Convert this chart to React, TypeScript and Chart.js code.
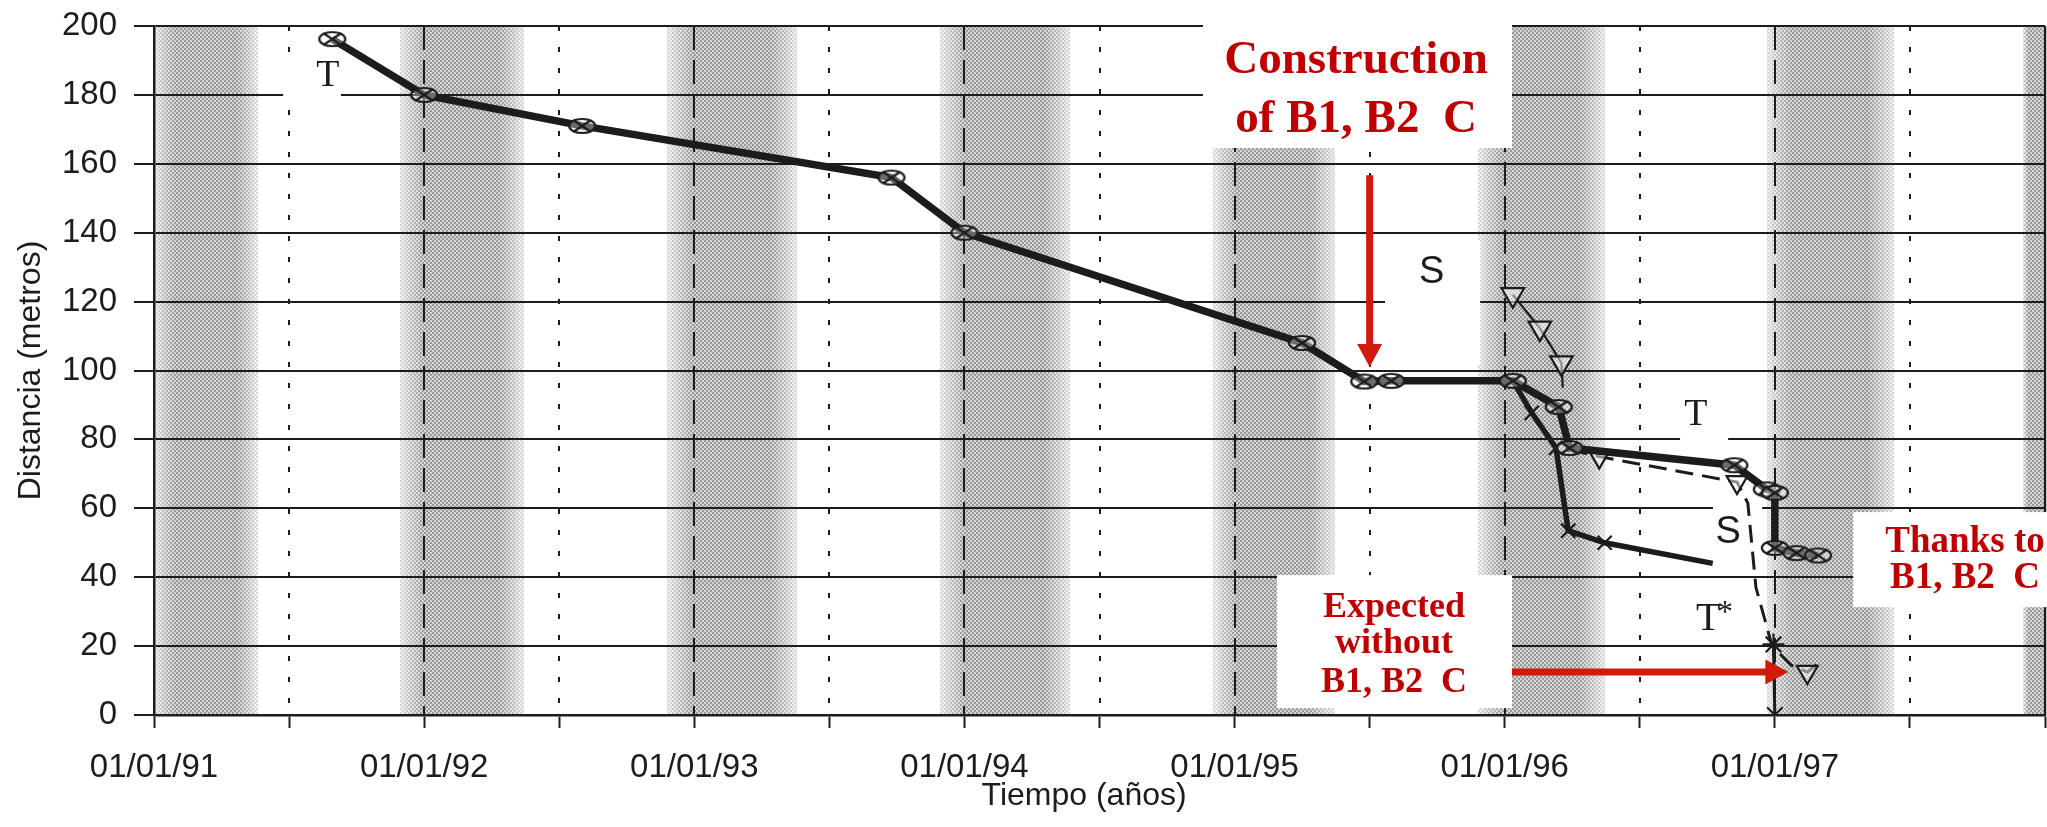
import React, { useEffect, useRef } from 'react';
import { Chart, registerables } from 'chart.js';
Chart.register(...registerables);

// ---------------- DATA ----------------
// Thick line "T" (measured)
const tYears = [1991.66, 1992.0, 1992.585, 1993.73, 1994.0, 1995.25, 1995.48, 1995.58, 1996.03, 1996.2, 1996.24, 1996.85, 1996.97, 1997.0, 1997.0, 1997.08, 1997.16];
const tDist = [196.2, 180, 171.0, 156, 140, 108, 96.8, 97, 97, 89.4, 77.5, 72.5, 65.5, 64.5, 48.5, 47, 46.3];
// Line "S" (measured)
const sYears = [1996.03, 1996.1, 1996.19, 1996.235, 1996.37, 1996.77];
const sDist = [97, 87.7, 77.5, 53.5, 50, 44];
// Triangles (upper predicted)
const pYears = [1996.03, 1996.13, 1996.21, 1996.215];
const pDist = [122, 112.3, 102.2, 95];
// Dashed "T*" (expected)
const tsYears = [1996.24, 1996.35, 1996.86, 1996.9, 1996.93, 1996.99, 1997.06, 1997.12, 1997.17];
const tsDist = [77, 75, 67.6, 61.5, 37, 20, 14.5, 12.5, 15.5];
// Asterisk markers
const aYears = [1996.995, 1997.0];
const aDist = [20.5, 0];

// Shaded seasonal bands
const bandStart = [1991.0, 1991.91, 1992.9, 1993.91, 1994.92, 1995.9, 1996.97, 1997.92];
const bandEnd = [1991.385, 1992.37, 1993.38, 1994.39, 1995.37, 1996.37, 1997.44, 1998.0];

// Axis ticks
const xTickYears = [1991, 1992, 1993, 1994, 1995, 1996, 1997];
const xTickLabels = ['01/01/91', '01/01/92', '01/01/93', '01/01/94', '01/01/95', '01/01/96', '01/01/97'];
const yearLines = [1992, 1993, 1994, 1995, 1996, 1997];
const halfYearLines = [1991.5, 1992.5, 1993.5, 1994.5, 1995.5, 1996.5, 1997.5];
const xTitle = 'Tiempo (años)';
const yTitle = 'Distancia (metros)';

// ---------------- ANNOTATION LAYOUT (data units) ----------------
const whiteBoxes = [
  { x0: 1994.883, x1: 1996.027, y0: 164.6, y1: 212 },
  { x0: 1995.557, x1: 1995.909, y0: 101.6, y1: 137.9 },
  { x0: 1991.478, x1: 1991.692, y0: 178.5, y1: 191.6 },
  { x0: 1996.649, x1: 1996.827, y0: 78.4, y1: 92.9 },
  { x0: 1996.771, x1: 1996.953, y0: 40.6, y1: 62.4 },
  { x0: 1996.612, x1: 1996.871, y0: 21.8, y1: 36.3 },
  { x0: 1995.157, x1: 1996.027, y0: 2.0, y1: 40.6 },
  { x0: 1997.29, x1: 1998.02, y0: 31.3, y1: 58.9 },
];
const blackLabels = [
  { text: 'T', x: 1991.644, y: 185.6, font: '38px "Liberation Serif"' },
  { text: 'S', x: 1995.73, y: 128.3, font: '38px "Liberation Sans"' },
  { text: 'T', x: 1996.708, y: 87.2, font: '38px "Liberation Serif"' },
  { text: 'S', x: 1996.827, y: 53.1, font: '38px "Liberation Sans"' },
  { text: 'T', x: 1996.753, y: 27.6, font: '40px "Liberation Serif"' },
  { text: '*', x: 1996.815, y: 29.5, font: '32px "Liberation Serif"' },
];
const redTexts = [
  { text: 'Construction', x: 1995.45, y: 186.4, size: 47 },
  { text: 'of B1, B2  C', x: 1995.45, y: 169.2, size: 47 },
  { text: 'Expected', x: 1995.59, y: 28.4, size: 36 },
  { text: 'without', x: 1995.59, y: 18.0, size: 36 },
  { text: 'B1, B2  C', x: 1995.59, y: 6.7, size: 36 },
  { text: 'Thanks to', x: 1997.704, y: 47.3, size: 37 },
  { text: 'B1, B2  C', x: 1997.704, y: 36.9, size: 37 },
];
const arrows = [
  { x0: 1995.5, y0: 156.7, x1: 1995.5, y1: 101 },
  { x0: 1996.027, y0: 12.5, x1: 1997.05, y1: 12.5 },
];
const X_TITLE_CENTER = 1994.443; // horizontal centre of the x-axis title (data units)

const INK = '#1c1c1c';
const RED_TEXT = '#C00000';
const RED_ARROW = '#D21A0C';

function makeOvalMarker(): HTMLCanvasElement {
  const c = document.createElement('canvas');
  c.width = 30; c.height = 18;
  const g = c.getContext('2d')!;
  g.strokeStyle = INK; g.lineWidth = 2.2;
  g.fillStyle = 'rgba(255,255,255,0.35)';
  g.beginPath(); g.ellipse(15, 9, 13, 7, 0, 0, Math.PI * 2); g.fill(); g.stroke();
  g.beginPath(); g.moveTo(6, 3); g.lineTo(24, 15); g.moveTo(6, 15); g.lineTo(24, 3); g.stroke();
  return c;
}

function makeDotPattern(ctx: CanvasRenderingContext2D) {
  const c = document.createElement('canvas');
  c.width = 4; c.height = 4;
  const g = c.getContext('2d')!;
  g.fillStyle = '#000';
  g.fillRect(0, 0, 2, 2); g.fillRect(2, 2, 2, 2);
  return ctx.createPattern(c, 'repeat');
}

const pts = (xs: number[], ys: number[]) => xs.map((x, i) => ({ x, y: ys[i] }));

const backgroundPlugin = {
  id: 'bgBands',
  beforeDraw(chart: any) {
    const { ctx, chartArea: a, scales: { x } } = chart;
    ctx.save();
    const pat = makeDotPattern(ctx);
    for (let i = 0; i < bandStart.length; i++) {
      const x0 = x.getPixelForValue(bandStart[i]);
      const x1 = x.getPixelForValue(bandEnd[i]);
      const n = 26;
      for (let k = 0; k < n; k++) {
        const t = (k + 0.5) / n;
        const p = 0.3 + 0.7 * Math.min(1, t / 0.2, (1 - t) / 0.2);
        const sx0 = Math.round(x0 + (k * (x1 - x0)) / n);
        const sx1 = Math.round(x0 + ((k + 1) * (x1 - x0)) / n);
        ctx.globalAlpha = 0.17 * p;
        ctx.fillStyle = '#000';
        ctx.fillRect(sx0, a.top, sx1 - sx0, a.bottom - a.top);
        ctx.globalAlpha = 0.28 * p;
        ctx.fillStyle = pat;
        ctx.fillRect(sx0, a.top, sx1 - sx0, a.bottom - a.top);
      }
    }
    ctx.restore();
  },
  beforeDatasetsDraw(chart: any) {
    const { ctx, chartArea: a, scales: { x, y } } = chart;
    ctx.save();
    ctx.strokeStyle = INK;
    ctx.lineWidth = 2;
    const vline = (v: number, dash: number[]) => {
      const px = Math.round(x.getPixelForValue(v));
      ctx.setLineDash(dash);
      ctx.beginPath(); ctx.moveTo(px, a.top); ctx.lineTo(px, a.bottom); ctx.stroke();
    };
    yearLines.forEach((v) => vline(v, [24, 10]));
    halfYearLines.forEach((v) => vline(v, [5, 16]));
    ctx.lineWidth = 2.5;
    vline(1998, []);
    ctx.setLineDash([]);
    ctx.fillStyle = '#ffffff';
    whiteBoxes.forEach((b) => {
      const px0 = x.getPixelForValue(b.x0), px1 = x.getPixelForValue(b.x1);
      const py0 = y.getPixelForValue(b.y1), py1 = y.getPixelForValue(b.y0);
      ctx.fillRect(px0, Math.max(0, py0), px1 - px0, py1 - Math.max(0, py0));
    });
    ctx.restore();
  },
  afterDatasetsDraw(chart: any) {
    const { ctx, scales: { x, y } } = chart;
    ctx.save();
    ctx.textAlign = 'center';
    ctx.textBaseline = 'middle';
    ctx.fillStyle = INK;
    blackLabels.forEach((l) => {
      ctx.font = l.font;
      ctx.fillText(l.text, x.getPixelForValue(l.x), y.getPixelForValue(l.y));
    });
    // x-axis title
    ctx.font = '32px "Liberation Sans"';
    ctx.fillText(xTitle, x.getPixelForValue(X_TITLE_CENTER), x.bottom - 31);
    ctx.textBaseline = 'alphabetic';
    ctx.fillStyle = RED_TEXT;
    redTexts.forEach((t) => {
      ctx.font = `bold ${t.size}px "Liberation Serif"`;
      ctx.fillText(t.text, x.getPixelForValue(t.x), y.getPixelForValue(t.y));
    });
    ctx.fillStyle = RED_ARROW;
    arrows.forEach((ar) => {
      const X0 = x.getPixelForValue(ar.x0), Y0 = y.getPixelForValue(ar.y0);
      const X1 = x.getPixelForValue(ar.x1), Y1 = y.getPixelForValue(ar.y1);
      const len = Math.hypot(X1 - X0, Y1 - Y0);
      const ux = (X1 - X0) / len, uy = (Y1 - Y0) / len;
      const nx = -uy, ny = ux;
      const headL = 23, headW = 12.5, shaftW = 3.5;
      const bx = X1 - ux * headL, by = Y1 - uy * headL;
      ctx.beginPath();
      ctx.moveTo(X0 + nx * shaftW, Y0 + ny * shaftW);
      ctx.lineTo(bx + nx * shaftW, by + ny * shaftW);
      ctx.lineTo(bx + nx * headW, by + ny * headW);
      ctx.lineTo(X1, Y1);
      ctx.lineTo(bx - nx * headW, by - ny * headW);
      ctx.lineTo(bx - nx * shaftW, by - ny * shaftW);
      ctx.lineTo(X0 - nx * shaftW, Y0 - ny * shaftW);
      ctx.closePath();
      ctx.fill();
    });
    ctx.restore();
  },
};

export default function App() {
  const ref = useRef<HTMLCanvasElement | null>(null);
  useEffect(() => {
    if (!ref.current) return;
    const oval = makeOvalMarker();
    const chart = new Chart(ref.current, {
      type: 'line',
      data: {
        datasets: [
          {
            label: 'T', data: pts(tYears, tDist), borderColor: INK, borderWidth: 7.5,
            pointStyle: oval as any, pointRadius: 9, pointBorderColor: INK, tension: 0, fill: false,
          },
          {
            label: 'S', data: pts(sYears, sDist), borderColor: INK, borderWidth: 5.5,
            pointStyle: 'crossRot', pointRadius: [0, 10, 10, 10, 10, 0], pointBorderWidth: 2.2,
            pointBorderColor: INK, tension: 0, fill: false,
          },
          {
            label: 'Spred', data: pts(pYears, pDist), borderColor: INK, borderWidth: 2.2,
            pointStyle: 'triangle', rotation: 180, pointRadius: [13, 13, 13, 0], pointBorderWidth: 2.2,
            pointBorderColor: INK, pointBackgroundColor: 'rgba(255,255,255,0.5)', tension: 0, fill: false,
          },
          {
            label: 'T*', data: pts(tsYears, tsDist), borderColor: INK, borderWidth: 3, borderDash: [18, 9],
            pointStyle: 'triangle', rotation: 180, pointRadius: [0, 12, 12, 0, 0, 0, 0, 12, 0], pointBorderWidth: 2.2,
            pointBorderColor: INK, pointBackgroundColor: 'rgba(255,255,255,0.5)', tension: 0, fill: false,
          },
          {
            label: 'ast', data: pts(aYears, aDist), borderColor: INK, borderWidth: 3,
            pointStyle: 'star', pointRadius: 11, pointBorderWidth: 2.2, pointBorderColor: INK, tension: 0, fill: false,
          },
        ],
      },
      options: {
        animation: false,
        responsive: false,
        maintainAspectRatio: false,
        events: [],
        layout: { autoPadding: false, padding: { left: 0, right: 2, top: 26, bottom: 0 } },
        plugins: { legend: { display: false }, tooltip: { enabled: false } },
        scales: {
          x: {
            type: 'linear', min: 1991, max: 1998,
            ticks: {
              stepSize: 0.5, autoSkip: false, maxRotation: 0, minRotation: 0, padding: 20,
              color: INK, font: { family: '"Liberation Sans"', size: 33 },
              callback: (v: any) => {
                const i = xTickYears.indexOf(Number(v));
                return i >= 0 ? xTickLabels[i] : '';
              },
            },
            grid: { drawOnChartArea: false, drawTicks: true, tickLength: 13, tickWidth: 2, tickColor: INK },
            border: { display: true, color: INK, width: 2.5 },
            title: { display: false },
            afterFit: (s: any) => { s.height = 112; s.paddingRight = 0; s.paddingLeft = 0; },
          },
          y: {
            min: 0, max: 200,
            ticks: { stepSize: 20, padding: 17, color: INK, font: { family: '"Liberation Sans"', size: 33 } },
            grid: { color: INK, lineWidth: 2, tickLength: 20, tickColor: INK, tickWidth: 2 },
            border: { display: true, color: INK, width: 2.5 },
            title: {
              display: true, text: yTitle, color: INK,
              font: { family: '"Liberation Sans"', size: 32 }, padding: { top: 12, bottom: 0 },
            },
            afterFit: (s: any) => { s.width = 154; s.paddingTop = 0; s.paddingBottom = 0; },
          },
        },
      } as any,
      plugins: [backgroundPlugin],
    });
    return () => chart.destroy();
  }, []);
  return (
    <div style={{ position: 'absolute', left: 0, top: 0, width: 2047, height: 827, background: '#fff' }}>
      <canvas ref={ref} width={2047} height={827} style={{ display: 'block' }} />
    </div>
  );
}
